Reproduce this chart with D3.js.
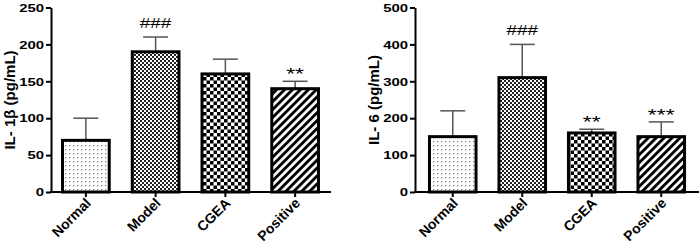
<!DOCTYPE html>
<html>
<head>
<meta charset="utf-8">
<script src="https://cdn.jsdelivr.net/npm/d3@7"></script>
<style>
  body { margin: 0; background: #fff; }
  svg { display: block; font-family: "Liberation Sans", Arial, sans-serif; }
</style>
</head>
<body>
<div id="chart"></div>
<script>
// 各群のデータ
const categories = ['Normal', 'Model', 'CGEA', 'Positive'];
const patterns = ['dots', 'fineCheck', 'coarseCheck', 'stripes'];

const il1bMean = [70, 190, 160, 140];
const il1bSd = [30, 20, 20, 10];
const il1bMarks = ['', '###', '', '**'];
const il1bTicks = [0, 50, 100, 150, 200, 250];

const il6Mean = [150, 310, 160, 150];
const il6Sd = [70, 90, 10, 40];
const il6Marks = ['', '###', '**', '***'];
const il6Ticks = [0, 100, 200, 300, 400, 500];

const svg = d3.select('#chart')
    .append('svg')
    .attr('width', 699)
    .attr('height', 247);

// 塗りパターン
const defs = svg.append('defs');

const pDots = defs.append('pattern').attr('id', 'dots')
    .attr('patternUnits', 'userSpaceOnUse').attr('width', 4).attr('height', 4);
pDots.append('rect').attr('width', 4).attr('height', 4).attr('fill', '#fff');
pDots.append('rect').attr('x', 1).attr('y', 1).attr('width', 1.2).attr('height', 1.2).attr('fill', '#777');

const pFine = defs.append('pattern').attr('id', 'fineCheck')
    .attr('patternUnits', 'userSpaceOnUse').attr('width', 4).attr('height', 4);
pFine.append('rect').attr('width', 4).attr('height', 4).attr('fill', '#fff');
pFine.append('rect').attr('width', 2).attr('height', 2).attr('fill', '#222');
pFine.append('rect').attr('x', 2).attr('y', 2).attr('width', 2).attr('height', 2).attr('fill', '#222');

const pCoarse = defs.append('pattern').attr('id', 'coarseCheck')
    .attr('patternUnits', 'userSpaceOnUse').attr('width', 7).attr('height', 7);
pCoarse.append('rect').attr('width', 7).attr('height', 7).attr('fill', '#fff');
pCoarse.append('rect').attr('width', 3.5).attr('height', 3.5).attr('fill', '#000');
pCoarse.append('rect').attr('x', 3.5).attr('y', 3.5).attr('width', 3.5).attr('height', 3.5).attr('fill', '#000');

const pStripes = defs.append('pattern').attr('id', 'stripes')
    .attr('patternUnits', 'userSpaceOnUse').attr('width', 5.6).attr('height', 10)
    .attr('patternTransform', 'rotate(45)');
pStripes.append('rect').attr('width', 5.6).attr('height', 10).attr('fill', '#fff');
pStripes.append('rect').attr('width', 2.9).attr('height', 10).attr('fill', '#000');

function drawPanel(opts) {
    const y = d3.scaleLinear().domain([0, opts.ticks[opts.ticks.length - 1]]).range([192, 7.5]);
    const x = d3.scaleBand().domain(categories).range(opts.band).paddingInner(0.33).paddingOuter(0.165);

    const g = svg.append('g');

    // y軸
    const yAxis = g.append('g')
        .attr('transform', `translate(${opts.axisX},0)`)
        .call(d3.axisLeft(y).tickValues(opts.ticks).tickSize(5).tickSizeOuter(0));
    yAxis.select('.domain').attr('stroke', '#000').attr('stroke-width', 2);
    yAxis.selectAll('.tick line').attr('stroke', '#000').attr('stroke-width', 2);
    yAxis.selectAll('.tick text')
        .attr('x', null).attr('dy', '0.36em')
        .attr('transform', 'translate(-7,0) scale(1.42,1)')
        .attr('fill', '#000')
        .style('font-size', '10.5px').style('font-weight', 'bold');

    // x軸
    g.append('line')
        .attr('x1', opts.axisX - 1).attr('x2', opts.axisEnd)
        .attr('y1', y(0)).attr('y2', y(0))
        .attr('stroke', '#000').attr('stroke-width', 2);
    g.selectAll('.xtick').data(categories).join('line')
        .attr('x1', d => x(d) + x.bandwidth() / 2).attr('x2', d => x(d) + x.bandwidth() / 2)
        .attr('y1', y(0)).attr('y2', y(0) + 5)
        .attr('stroke', '#000').attr('stroke-width', 2);
    g.selectAll('.xlabel').data(categories).join('text')
        .attr('transform', d => `translate(${x(d) + x.bandwidth() / 2 + 6},${y(0) + 12}) rotate(-45)`)
        .attr('text-anchor', 'end')
        .style('font-size', '14px').style('font-weight', 'bold')
        .text(d => d);

    // エラーバー
    const capW = 25;
    categories.forEach((c, i) => {
        const cx = x(c) + x.bandwidth() / 2;
        const top = y(opts.mean[i] + opts.sd[i]);
        g.append('line')
            .attr('x1', cx).attr('x2', cx).attr('y1', y(opts.mean[i])).attr('y2', top)
            .attr('stroke', '#555').attr('stroke-width', 1.5);
        g.append('line')
            .attr('x1', cx - capW / 2).attr('x2', cx + capW / 2).attr('y1', top).attr('y2', top)
            .attr('stroke', '#555').attr('stroke-width', 1.5);
        if (opts.marks[i]) {
            const isStar = opts.marks[i].startsWith('*');
            g.append('text')
                .attr('transform', `translate(${cx},${top - (isStar ? 1 : 9)}) scale(1.35,1)`)
                .attr('text-anchor', 'middle')
                .style('font-size', isStar ? '17px' : '14px')
                .text(opts.marks[i]);
        }
    });

    // 棒
    g.selectAll('.bar').data(categories).join('rect')
        .attr('x', d => x(d))
        .attr('y', (d, i) => y(opts.mean[i]))
        .attr('width', x.bandwidth())
        .attr('height', (d, i) => y(0) - y(opts.mean[i]))
        .attr('fill', (d, i) => `url(#${patterns[i]})`)
        .attr('stroke', '#000').attr('stroke-width', 3);

    // y軸ラベル
    g.append('text')
        .attr('transform', `translate(${opts.labelX},100) rotate(-90)`)
        .attr('text-anchor', 'middle')
        .attr('dy', '0.35em')
        .style('font-size', '15px').style('font-weight', 'bold')
        .text(opts.label);
}

drawPanel({
    mean: il1bMean, sd: il1bSd, marks: il1bMarks, ticks: il1bTicks,
    band: [51, 330], axisX: 51, axisEnd: 331, labelX: 10, label: 'IL- 1β (pg/mL)'
});

drawPanel({
    mean: il6Mean, sd: il6Sd, marks: il6Marks, ticks: il6Ticks,
    band: [418, 696], axisX: 415, axisEnd: 699, labelX: 374, label: 'IL- 6 (pg/mL)'
});
</script>
</body>
</html>
